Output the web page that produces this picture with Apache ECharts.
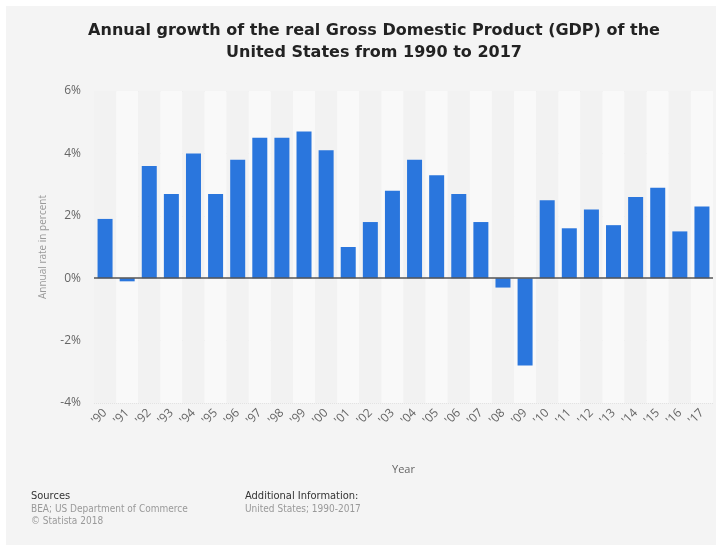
<!DOCTYPE html>
<html>
<head>
<meta charset="utf-8">
<title>US GDP growth 1990-2017</title>
<script src="https://cdn.jsdelivr.net/npm/echarts@6/dist/echarts.min.js"></script>
<style>
  html, body { margin: 0; padding: 0; background: #fff; }
  #chart { width: 717px; height: 548px; }
</style>
</head>
<body>
<div id="chart"></div>
<script>
// Data
const years = ["'90", "'91", "'92", "'93", "'94", "'95", "'96", "'97", "'98", "'99",
  "'00", "'01", "'02", "'03", "'04", "'05", "'06", "'07", "'08", "'09",
  "'10", "'11", "'12", "'13", "'14", "'15", "'16", "'17"];
const growth = [1.9, -0.1, 3.6, 2.7, 4.0, 2.7, 3.8, 4.5, 4.5, 4.7,
  4.1, 1.0, 1.8, 2.8, 3.8, 3.3, 2.7, 1.8, -0.3, -2.8,
  2.5, 1.6, 2.2, 1.7, 2.6, 2.9, 1.5, 2.3];

const titleLines = [
  'Annual growth of the real Gross Domestic Product (GDP) of the',
  'United States from 1990 to 2017'
];

const chart = echarts.init(document.getElementById('chart'));

const labelFont = "'Open Sans', 'Noto Sans', sans-serif";
const footFont = "'DejaVu Sans Condensed', 'DejaVu Sans', sans-serif";

chart.setOption({
  backgroundColor: 'transparent',
  animation: false,
  graphic: [
    // light panel behind everything
    {
      type: 'rect', z: -10,
      shape: { x: 6, y: 6, width: 710, height: 539 },
      style: { fill: '#f4f4f4' }
    },
    {
      type: 'text', x: 374, y: 31, z: 10,
      style: {
        text: titleLines[0], align: 'center', verticalAlign: 'middle',
        font: "bold 16px 'DejaVu Sans', sans-serif", fill: '#222'
      }
    },
    {
      type: 'text', x: 374, y: 53, z: 10,
      style: {
        text: titleLines[1], align: 'center', verticalAlign: 'middle',
        font: "bold 16px 'DejaVu Sans', sans-serif", fill: '#222'
      }
    },
    {
      type: 'text', x: 31, y: 496, z: 10,
      style: { text: 'Sources', verticalAlign: 'middle', font: '11px ' + footFont, fill: '#333' }
    },
    {
      type: 'text', x: 31, y: 509, z: 10,
      style: { text: 'BEA; US Department of Commerce', verticalAlign: 'middle', font: '10px ' + footFont, fill: '#999' }
    },
    {
      type: 'text', x: 31, y: 521, z: 10,
      style: { text: '\u00a9 Statista 2018', verticalAlign: 'middle', font: '10px ' + footFont, fill: '#999' }
    },
    {
      type: 'text', x: 245, y: 496, z: 10,
      style: { text: 'Additional Information:', verticalAlign: 'middle', font: '11px ' + footFont, fill: '#333' }
    },
    {
      type: 'text', x: 245, y: 509, z: 10,
      style: { text: 'United States; 1990-2017', verticalAlign: 'middle', font: '10px ' + footFont, fill: '#999' }
    }
  ],
  grid: { left: 94, right: 4, top: 91, bottom: 145 },
  xAxis: {
    type: 'category',
    data: years,
    name: 'Year',
    nameLocation: 'middle',
    nameGap: 61,
    nameTextStyle: { color: '#666', fontSize: 11, fontFamily: labelFont },
    axisLine: { show: false, onZero: false },
    axisTick: { show: false },
    axisLabel: {
      rotate: 45, color: '#666', fontSize: 12, fontFamily: labelFont,
      margin: 8, interval: 0
    },
    splitArea: { show: true, interval: 0, areaStyle: { color: ['#f2f2f2', '#f9f9f9'] } }
  },
  yAxis: {
    type: 'value',
    min: -4, max: 6, interval: 2,
    name: 'Annual rate in percent',
    nameLocation: 'middle',
    nameGap: 46,
    nameTextStyle: { color: '#999', fontSize: 10, fontFamily: labelFont },
    axisLine: { show: false },
    axisTick: { show: false },
    axisLabel: {
      color: '#666', fontSize: 12, fontFamily: labelFont, margin: 13,
      formatter: v => v + '%'
    },
    splitLine: { lineStyle: { color: '#e2e2e2', type: 'dotted', width: 1 } }
  },
  series: [
    {
      type: 'bar',
      data: growth,
      barWidth: 15,
      itemStyle: { color: '#2a76dd' },
      markLine: {
        silent: true,
        symbol: 'none',
        label: { show: false },
        lineStyle: { color: '#555', type: 'solid', width: 1.5 },
        data: [{ yAxis: 0 }]
      }
    }
  ]
});
</script>
</body>
</html>
